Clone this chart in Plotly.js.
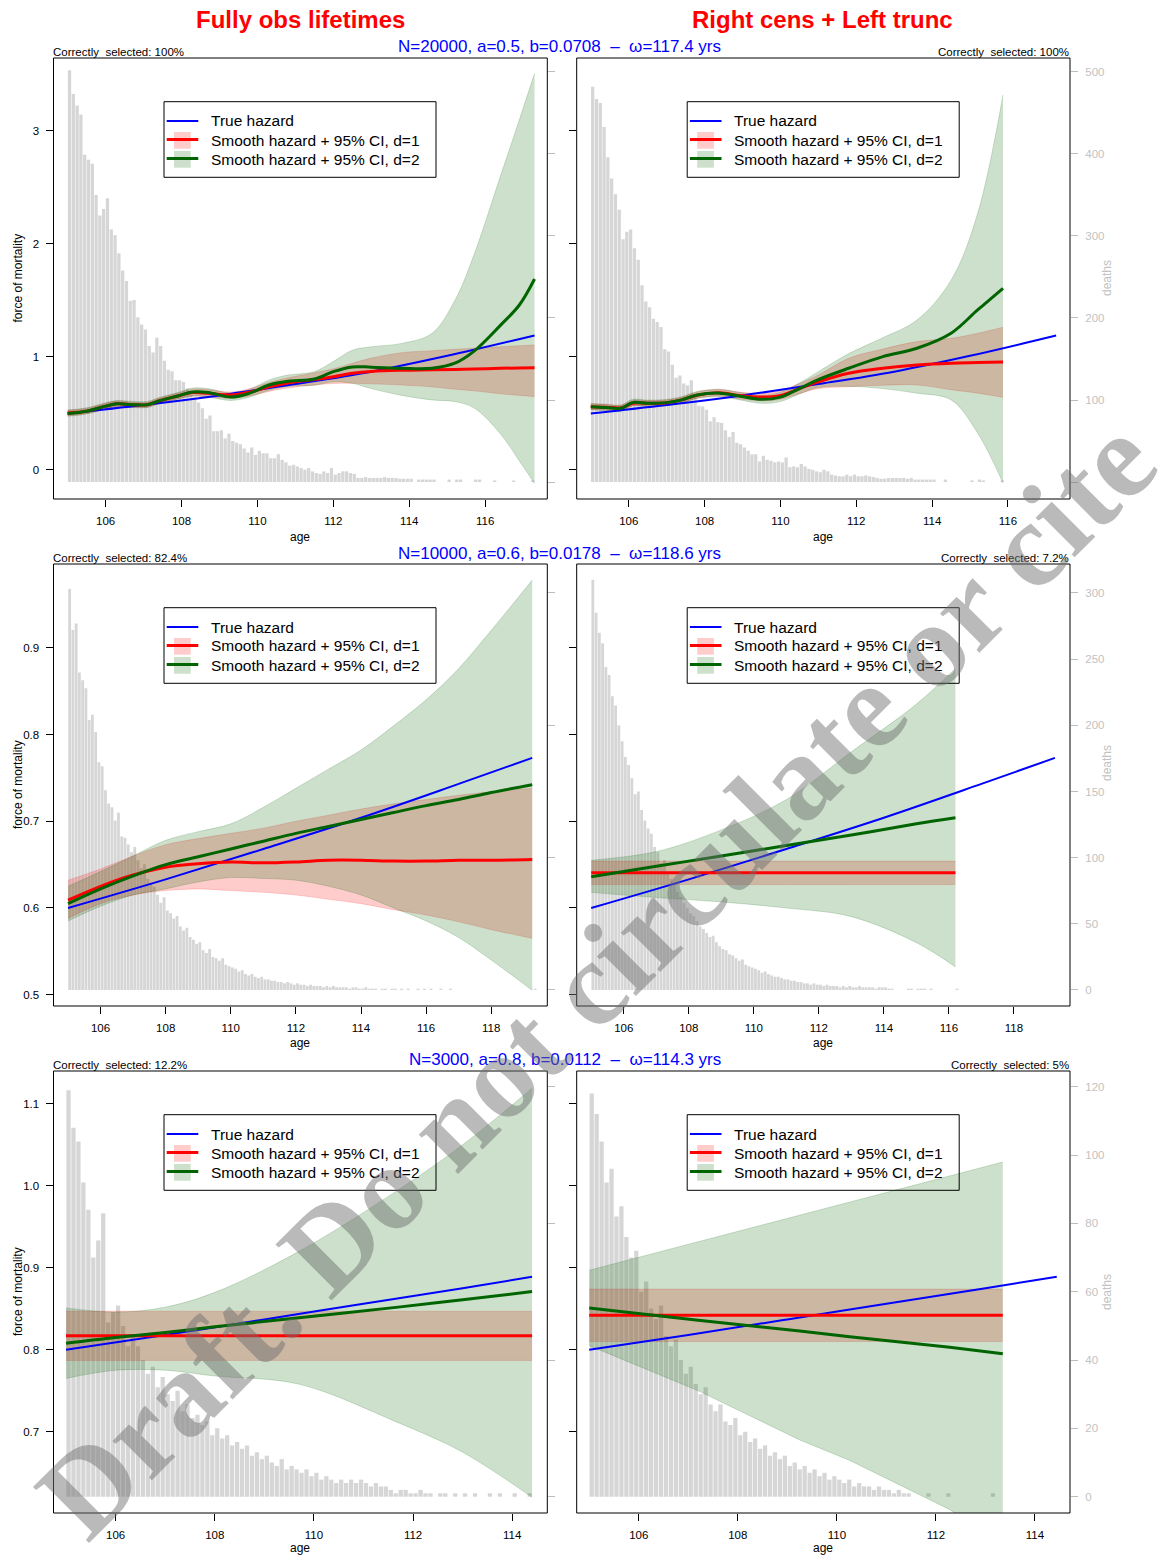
<!DOCTYPE html>
<html>
<head>
<meta charset="utf-8">
<script src="https://cdn.plot.ly/plotly-3.0.1.min.js"></script>
<style>html,body{margin:0;padding:0;background:#fff;}#chart{width:1163px;height:1556px;}</style>
</head>
<body>
<div id="chart"></div>
<script>
// ---------------- DATA ----------------
const titleLeft = 'Fully obs lifetimes';
const titleRight = 'Right cens + Left trunc';
const rowSubtitles = ['N=20000, a=0.5, b=0.0708 \u00a0\u2013\u00a0 \u03c9=117.4 yrs',
                      'N=10000, a=0.6, b=0.0178 \u00a0\u2013\u00a0 \u03c9=118.6 yrs',
                      'N=3000, a=0.8, b=0.0112 \u00a0\u2013\u00a0 \u03c9=114.3 yrs'];
const selectedText = ['Correctly\u00a0 selected: 100%', 'Correctly\u00a0 selected: 100%',
                      'Correctly\u00a0 selected: 82.4%', 'Correctly\u00a0 selected: 7.2%',
                      'Correctly\u00a0 selected: 12.2%', 'Correctly\u00a0 selected: 5%'];
const legendLabels = ['True hazard', 'Smooth hazard + 95% CI, d=1', 'Smooth hazard + 95% CI, d=2'];
const watermark = 'Draft. Do not circulate or cite';

// histogram: deaths per bin, bins start at 105.0, read in 0.1-year steps
const histStart = 105.0;
const histStep = 0.1;
const deathsP1 = [502,473,459,448,399,393,388,350,325,333,
  346,308,301,279,258,245,221,222,201,192,
  186,166,158,176,166,148,137,135,124,124,
  122,114,106,104,97,90,77,81,62,62,
  63,53,59,50,48,46,41,36,42,33,
  38,35,35,29,29,34,27,24,20,21,
  19,17,15,17,13,11,10,13,11,17,
  9,11,13,13,11,10,5,5,6,5,
  5,5,5,6,5,5,5,4,4,4,
  4,0,3,3,3,3,3,0,0,0,
  3,0,3,3,0,0,0,3,3,0,
  0,0,2,0,0,0,0,2,0,0,
  0,0,2];
const deathsP2 = [482,467,462,433,396,370,351,332,296,305,
  308,285,271,240,220,213,199,195,189,162,
  159,143,127,130,120,118,124,104,93,92,
  88,74,79,73,72,63,55,61,48,46,
  42,38,34,34,25,32,27,26,24,25,
  24,30,18,19,18,22,19,16,15,13,
  12,15,13,9,8,7,7,9,7,9,
  7,7,8,7,6,5,4,4,5,5,
  5,5,5,4,5,3,3,3,3,3,
  3,0,0,3,0,0,0,0,0,0,
  2,0,3,2,0,0,0,0,2];
const deathsP3 = [303,272,277,240,234,228,204,208,195,172,
  169,151,141,138,128,134,116,115,110,104,
  108,98,92,95,84,80,78,72,66,70,
  60,58,54,56,48,45,47,40,38,35,
  36,30,28,31,25,24,22,24,19,18,
  17,16,14,15,12,11,12,10,9,10,
  8,8,7,7,6,6,5,6,5,4,
  5,4,4,3,4,3,3,3,2,3,
  2,3,2,2,2,2,1,2,2,1,
  1,2,1,1,1,0,1,1,0,1,
  1,0,1,0,1,0,0,1,0,1,
  0,1,0,0,1,0,0,1,0,0,
  0,0,0,0,0,0,0,0,0,0,
  0,0,0,0,0,0,0,0,0,0,
  0,0,0,1];
const deathsP4 = [310,285,270,262,244,238,222,215,200,188,
  176,170,160,148,150,136,128,122,118,108,
  104,96,98,88,84,80,74,70,66,62,
  58,56,52,48,46,43,40,41,36,33,
  31,30,27,26,24,22,23,19,18,17,
  16,15,13,14,12,11,10,10,9,8,
  8,7,7,6,6,5,5,4,5,4,
  4,3,4,3,3,3,2,3,2,3,
  2,2,3,2,2,2,2,1,2,2,
  2,1,1,0,0,0,0,1,1,0,
  1,1,1,0,1,0,0,0,0,0,
  0,0,1];
const deathsP5 = [119,108,104,92,84,70,75,83,51,54,
  56,50,44,47,44,40,36,38,32,35,
  30,28,31,25,27,23,24,21,22,18,
  20,17,18,15,16,14,15,12,13,11,
  12,10,9,11,8,9,8,7,8,6,
  7,5,6,5,4,5,4,5,4,5,
  4,3,4,3,3,2,1,2,2,1,
  1,2,1,1,0,1,1,0,1,0,
  1,0,1,0,0,1,0,1,0,0,
  1,0,0,1,0];
const deathsP6 = [118,112,104,92,96,82,85,76,70,72,
  60,63,55,52,56,47,44,46,40,36,
  38,33,30,32,27,25,27,22,21,23,
  18,19,16,17,14,15,12,13,11,12,
  9,10,8,9,7,8,6,7,5,6,
  5,4,5,3,4,3,3,2,3,2,
  2,1,2,1,1,0,0,0,1,0,
  0,0,1,0,0,0,0,0,0,0,
  0,1,0,0];

// Panel 1 (row 1, fully observed)
const ageTrueP1 = [105, 107, 109, 111, 113, 115, 117.3];
const hazTrueP1 = [0.50, 0.575, 0.66, 0.76, 0.87, 1.01, 1.19];
const ageFitP1 = [105.0,105.5,106.0,106.3,106.7,107.1,107.4,107.9,108.3,108.7,109.3,109.8,110.3,110.8,111.5,112.0,112.5,113.0,113.8,114.6,115.2,115.7,116.4,116.9,117.3];
const fitD1P1 = [0.505,0.52,0.565,0.585,0.578,0.578,0.61,0.655,0.685,0.678,0.664,0.69,0.735,0.77,0.80,0.825,0.855,0.872,0.882,0.886,0.89,0.893,0.90,0.903,0.905];
const loD1P1 = [0.48,0.50,0.54,0.56,0.555,0.555,0.585,0.63,0.655,0.645,0.635,0.655,0.695,0.725,0.752,0.765,0.767,0.762,0.752,0.735,0.715,0.70,0.675,0.66,0.649];
const hiD1P1 = [0.53,0.545,0.59,0.61,0.60,0.60,0.635,0.68,0.715,0.71,0.69,0.72,0.775,0.815,0.86,0.895,0.945,0.99,1.038,1.055,1.068,1.078,1.09,1.10,1.106];
const fitD2P1 = [0.50,0.52,0.565,0.585,0.578,0.578,0.61,0.655,0.69,0.685,0.645,0.68,0.752,0.785,0.805,0.87,0.912,0.91,0.90,0.90,0.945,1.05,1.28,1.46,1.69];
const loD2P1 = [0.475,0.495,0.54,0.56,0.553,0.553,0.585,0.628,0.655,0.645,0.615,0.645,0.705,0.74,0.75,0.78,0.767,0.72,0.66,0.62,0.605,0.55,0.32,0.08,-0.12];
const hiD2P1 = [0.53,0.55,0.595,0.615,0.607,0.607,0.64,0.685,0.725,0.72,0.68,0.715,0.795,0.84,0.87,0.96,1.06,1.09,1.12,1.21,1.50,1.90,2.6,3.1,3.51];

// Panel 2 (row 1, right cens + left trunc)
const ageTrueP2 = [105, 107, 109, 111, 113, 115, 117.27];
const hazTrueP2 = [0.50, 0.575, 0.66, 0.76, 0.87, 1.01, 1.19];
const ageFitP2 = [105.0,105.4,105.8,106.1,106.5,107.0,107.4,107.8,108.4,108.9,109.5,110.0,110.5,111.0,111.8,112.7,113.6,114.5,115.2,115.87];
const fitD1P2 = [0.56,0.556,0.55,0.59,0.59,0.595,0.62,0.662,0.684,0.66,0.645,0.66,0.72,0.78,0.856,0.90,0.929,0.945,0.95,0.955];
const loD1P2 = [0.535,0.53,0.525,0.565,0.565,0.57,0.595,0.635,0.655,0.63,0.612,0.625,0.675,0.72,0.737,0.75,0.752,0.71,0.68,0.643];
const hiD1P2 = [0.585,0.582,0.575,0.615,0.615,0.62,0.645,0.69,0.715,0.69,0.678,0.70,0.765,0.84,0.988,1.07,1.136,1.165,1.21,1.263];
const fitD2P2 = [0.56,0.552,0.546,0.596,0.59,0.596,0.62,0.664,0.68,0.655,0.625,0.645,0.72,0.80,0.90,1.003,1.077,1.21,1.416,1.608];
const loD2P2 = [0.532,0.525,0.52,0.568,0.562,0.568,0.592,0.633,0.648,0.622,0.59,0.605,0.672,0.73,0.74,0.72,0.679,0.62,0.327,-0.116];
const hiD2P2 = [0.588,0.58,0.574,0.625,0.618,0.624,0.648,0.695,0.712,0.688,0.662,0.688,0.77,0.87,1.03,1.17,1.327,1.68,2.27,3.32];

// Panel 3 (row 2, fully observed)
const ageTrueP3 = [105, 108, 111, 114, 117, 119.26];
const hazTrueP3 = [0.600, 0.633, 0.668, 0.704, 0.743, 0.773];
const ageFitP3 = [105,106,107,108,109,110,111,112,113,114,115,116,117,118,119.26];
const fitD1P3 = [0.609,0.625,0.638,0.647,0.651,0.653,0.652,0.653,0.655,0.655,0.654,0.654,0.655,0.655,0.656];
const loD1P3 = [0.588,0.605,0.615,0.62,0.622,0.62,0.618,0.615,0.61,0.605,0.598,0.592,0.584,0.575,0.565];
const hiD1P3 = [0.632,0.645,0.66,0.673,0.68,0.686,0.692,0.70,0.707,0.714,0.72,0.725,0.73,0.734,0.738];
const fitD2P3 = [0.605,0.622,0.637,0.65,0.659,0.668,0.677,0.686,0.694,0.702,0.71,0.718,0.725,0.733,0.742];
const loD2P3 = [0.585,0.602,0.615,0.622,0.63,0.635,0.634,0.632,0.625,0.615,0.60,0.585,0.566,0.54,0.505];
const hiD2P3 = [0.625,0.642,0.66,0.678,0.688,0.697,0.716,0.738,0.76,0.782,0.81,0.84,0.876,0.92,0.978];

// Panel 4 (row 2, right cens + left trunc)
const ageTrueP4 = [105, 108, 111, 114, 117, 119.26];
const hazTrueP4 = [0.600, 0.633, 0.668, 0.704, 0.743, 0.773];
const ageFitP4 = [105, 107, 109, 111, 113, 115, 116.2];
const fitD1P4 = [0.6405,0.6405,0.6405,0.6405,0.6405,0.6405,0.6405];
const loD1P4 = [0.627,0.627,0.627,0.627,0.627,0.627,0.627];
const hiD1P4 = [0.654,0.654,0.654,0.654,0.654,0.654,0.654];
const fitD2P4 = [0.636,0.648,0.66,0.672,0.684,0.697,0.704];
const loD2P4 = [0.618,0.612,0.607,0.60,0.59,0.56,0.532];
const hiD2P4 = [0.655,0.665,0.69,0.725,0.78,0.835,0.876];

// Panel 5 (row 3, fully observed)
const ageTrueP5 = [105, 107, 109, 111, 113, 114.4];
const hazTrueP5 = [0.80, 0.818, 0.837, 0.856, 0.875, 0.889];
const ageFitP5 = [105, 106, 107, 108, 109.7, 111.7, 113, 114.4];
const fitD1P5 = [0.817,0.817,0.817,0.817,0.817,0.817,0.817,0.817];
const loD1P5 = [0.787,0.787,0.787,0.787,0.787,0.787,0.787,0.787];
const hiD1P5 = [0.847,0.847,0.847,0.847,0.847,0.847,0.847,0.847];
const fitD2P5 = [0.808,0.815,0.821,0.828,0.839,0.852,0.861,0.871];
const loD2P5 = [0.765,0.775,0.775,0.768,0.758,0.711,0.675,0.62];
const hiD2P5 = [0.851,0.846,0.852,0.87,0.92,0.995,1.05,1.119];

// Panel 6 (row 3, right cens + left trunc)
const ageTrueP6 = [105, 107, 109, 111, 113, 114.44];
const hazTrueP6 = [0.80, 0.818, 0.837, 0.856, 0.875, 0.889];
const ageFitP6 = [105, 107.2, 109.25, 110.26, 112.28, 113.35];
const fitD1P6 = [0.842,0.842,0.842,0.842,0.842,0.842];
const loD1P6 = [0.81,0.81,0.81,0.81,0.81,0.81];
const hiD1P6 = [0.874,0.874,0.874,0.874,0.874,0.874];
const fitD2P6 = [0.851,0.836,0.823,0.816,0.803,0.795];
const loD2P6 = [0.805,0.75,0.69,0.665,0.605,0.561];
const hiD2P6 = [0.897,0.932,0.964,0.98,1.012,1.029];

// axis ticks per row
const xTicksRows = [[106,108,110,112,114,116],[106,108,110,112,114,116,118],[106,108,110,112,114]];
const hazTicksRows = [[0,1,2,3],[0.5,0.6,0.7,0.8,0.9],[0.7,0.8,0.9,1.0,1.1]];
const hazTickTextRows = [['0','1','2','3'],['0.5','0.6','0.7','0.8','0.9'],['0.7','0.8','0.9','1.0','1.1']];
const deathTicksRightRows = [[0,100,200,300,400,500],[0,50,100,150,200,250,300],[0,20,40,60,80,100,120]];
const deathTickTextRightRows = [['','100','200','300','400','500'],['0','50','100','150','200','250','300'],['0','20','40','60','80','100','120']];
const deathTicksLeftRows = [[0,100,200,300,400,500],[0,100,200,300],[0,40,80,120]];

// ---------------- LAYOUT ----------------
const W = 1163, H = 1556;
const FONT = '"Liberation Sans", Arial, Helvetica, sans-serif';
const px2x = p => p / W;
const py2y = p => 1 - p / H;
const COLS = [[53.5, 547.3], [576.7, 1070]];
const ROWS = [[58, 499], [564, 1006], [1071, 1513]];
const ageLabelY = [537, 1043, 1548];
const deathsLabelY = [278, 763, 1292];
const rowRanges = [
  {xr: [104.628, 117.636], hr: [-0.257, 3.646], dr: [-20.7, 517]},
  {xr: [104.554, 119.723], hr: [0.487, 0.9965], dr: [-12.1, 321.9]},
  {xr: [104.747, 114.707], hr: [0.6009, 1.140], dr: [-4.77, 124.6]}
];

const panels = [
  {row:0, col:0, deaths:deathsP1, at:ageTrueP1, ht:hazTrueP1, af:ageFitP1, d1:fitD1P1, lo1:loD1P1, hi1:hiD1P1, d2:fitD2P1, lo2:loD2P1, hi2:hiD2P1, smooth:true},
  {row:0, col:1, deaths:deathsP2, at:ageTrueP2, ht:hazTrueP2, af:ageFitP2, d1:fitD1P2, lo1:loD1P2, hi1:hiD1P2, d2:fitD2P2, lo2:loD2P2, hi2:hiD2P2, smooth:true},
  {row:1, col:0, deaths:deathsP3, at:ageTrueP3, ht:hazTrueP3, af:ageFitP3, d1:fitD1P3, lo1:loD1P3, hi1:hiD1P3, d2:fitD2P3, lo2:loD2P3, hi2:hiD2P3, smooth:true},
  {row:1, col:1, deaths:deathsP4, at:ageTrueP4, ht:hazTrueP4, af:ageFitP4, d1:fitD1P4, lo1:loD1P4, hi1:hiD1P4, d2:fitD2P4, lo2:loD2P4, hi2:hiD2P4, smooth:true},
  {row:2, col:0, deaths:deathsP5, at:ageTrueP5, ht:hazTrueP5, af:ageFitP5, d1:fitD1P5, lo1:loD1P5, hi1:hiD1P5, d2:fitD2P5, lo2:loD2P5, hi2:hiD2P5, smooth:true},
  {row:2, col:1, deaths:deathsP6, at:ageTrueP6, ht:hazTrueP6, af:ageFitP6, d1:fitD1P6, lo1:loD1P6, hi1:hiD1P6, d2:fitD2P6, lo2:loD2P6, hi2:hiD2P6, smooth:false}
];

const traces = [];
const layout = {
  width: W, height: H, margin: {l:0, r:0, t:0, b:0},
  paper_bgcolor: '#ffffff', plot_bgcolor: 'rgba(0,0,0,0)',
  showlegend: false, font: {family: FONT, color: '#000'},
  shapes: [], annotations: []
};

panels.forEach((p, i) => {
  const k = i + 1;
  const xid = k === 1 ? 'x' : 'x' + k;
  const hid = k === 1 ? 'y' : 'y' + k;
  const did = 'y' + (k + 6);
  const xkey = k === 1 ? 'xaxis' : 'xaxis' + k;
  const hkey = k === 1 ? 'yaxis' : 'yaxis' + k;
  const dkey = 'yaxis' + (k + 6);
  const rr = rowRanges[p.row];
  const [xl, xr] = COLS[p.col];
  const [yt, yb] = ROWS[p.row];
  const right = p.col === 1;

  layout[xkey] = {domain: [px2x(xl), px2x(xr)], range: rr.xr, anchor: did,
    tickmode: 'array', tickvals: xTicksRows[p.row], ticks: 'outside', ticklen: 7, tickwidth: 1, tickcolor: '#000',
    showgrid: false, zeroline: false, showline: false, ticklabelstandoff: 4,
    tickfont: {family: FONT, size: 11.5, color: '#000'}};
  layout[dkey] = {domain: [py2y(yb), py2y(yt)], range: rr.dr, anchor: xid, side: 'right',
    tickmode: 'array', tickvals: right ? deathTicksRightRows[p.row] : deathTicksLeftRows[p.row],
    ticktext: right ? deathTickTextRightRows[p.row] : deathTicksLeftRows[p.row].map(() => ''),
    ticks: 'outside', ticklen: 7, tickwidth: 1, tickcolor: '#bdbdbd',
    showgrid: false, zeroline: false, showline: false, showticklabels: right, ticklabelstandoff: 5,
    tickfont: {family: FONT, size: 11.5, color: '#c2c2c2'}};
  layout[hkey] = {overlaying: did, range: rr.hr, anchor: xid, side: 'left',
    tickmode: 'array', tickvals: hazTicksRows[p.row], ticktext: hazTickTextRows[p.row],
    ticks: 'outside', ticklen: 7, tickwidth: 1, tickcolor: '#000',
    showgrid: false, zeroline: false, showline: false, showticklabels: !right, ticklabelstandoff: 4,
    tickfont: {family: FONT, size: 11.5, color: '#000'}};

  // histogram of deaths
  const bx = p.deaths.map((_, j) => histStart + (j + 0.5) * histStep);
  traces.push({type: 'bar', x: bx, y: p.deaths, width: histStep * 0.86, xaxis: xid, yaxis: did,
    marker: {color: '#d6d6d6', line: {width: 0}}, hoverinfo: 'skip'});

  const shp = p.smooth ? 'spline' : 'linear';
  // d=1 band
  traces.push({type:'scatter', mode:'lines', x:p.af, y:p.lo1, xaxis:xid, yaxis:hid,
    line:{color:'rgba(255,0,0,0.22)', width:0.7, shape:shp}, hoverinfo:'skip'});
  traces.push({type:'scatter', mode:'lines', x:p.af, y:p.hi1, xaxis:xid, yaxis:hid, fill:'tonexty',
    fillcolor:'rgba(255,0,0,0.2)', line:{color:'rgba(255,0,0,0.22)', width:0.7, shape:shp}, hoverinfo:'skip'});
  // d=2 band
  traces.push({type:'scatter', mode:'lines', x:p.af, y:p.lo2, xaxis:xid, yaxis:hid,
    line:{color:'rgba(0,100,0,0.25)', width:0.7, shape:shp}, hoverinfo:'skip'});
  traces.push({type:'scatter', mode:'lines', x:p.af, y:p.hi2, xaxis:xid, yaxis:hid, fill:'tonexty',
    fillcolor:'rgba(0,100,0,0.2)', line:{color:'rgba(0,100,0,0.25)', width:0.7, shape:shp}, hoverinfo:'skip'});
  // lines
  traces.push({type:'scatter', mode:'lines', x:p.at, y:p.ht, xaxis:xid, yaxis:hid,
    line:{color:'#0000ff', width:2, shape:'spline'}, hoverinfo:'skip'});
  traces.push({type:'scatter', mode:'lines', x:p.af, y:p.d1, xaxis:xid, yaxis:hid,
    line:{color:'#ff0000', width:3, shape:shp}, hoverinfo:'skip'});
  traces.push({type:'scatter', mode:'lines', x:p.af, y:p.d2, xaxis:xid, yaxis:hid,
    line:{color:'#006400', width:3, shape:shp}, hoverinfo:'skip'});

  // box
  layout.shapes.push({type:'rect', xref: xid + ' domain', yref: did + ' domain', x0:0, x1:1, y0:0, y1:1,
    line:{color:'#000', width:1}, layer:'above'});

  // legend
  const lx = d => px2x(xl + d), ly = d => py2y(yt + d);
  layout.shapes.push({type:'rect', xref:'paper', yref:'paper', x0:lx(110.5), x1:lx(382.5), y0:ly(119.3), y1:ly(43.7),
    line:{color:'#000', width:1}, layer:'above'});
  layout.shapes.push({type:'line', xref:'paper', yref:'paper', x0:lx(113.2), x1:lx(144.8), y0:ly(63), y1:ly(63),
    line:{color:'#0000ff', width:2}, layer:'above'});
  layout.shapes.push({type:'rect', xref:'paper', yref:'paper', x0:lx(120.5), x1:lx(137.2), y0:ly(90.7), y1:ly(74),
    fillcolor:'rgba(255,0,0,0.2)', line:{width:0}, layer:'above'});
  layout.shapes.push({type:'line', xref:'paper', yref:'paper', x0:lx(113.2), x1:lx(144.8), y0:ly(81.6), y1:ly(81.6),
    line:{color:'#ff0000', width:3}, layer:'above'});
  layout.shapes.push({type:'rect', xref:'paper', yref:'paper', x0:lx(120.5), x1:lx(137.2), y0:ly(109.7), y1:ly(93),
    fillcolor:'rgba(0,100,0,0.2)', line:{width:0}, layer:'above'});
  layout.shapes.push({type:'line', xref:'paper', yref:'paper', x0:lx(113.2), x1:lx(144.8), y0:ly(100.5), y1:ly(100.5),
    line:{color:'#006400', width:3}, layer:'above'});
  [63, 82, 101].forEach((dy, j) => {
    layout.annotations.push({xref:'paper', yref:'paper', x:lx(155), y:ly(dy), xanchor:'left', yanchor:'middle',
      text: legendLabels[j], showarrow:false, font:{family:FONT, size:15.5, color:'#000'}});
  });

  // "Correctly selected"
  layout.annotations.push({xref:'paper', yref:'paper', x: right ? px2x(1071) : px2x(51), y: py2y(yt - 6),
    xanchor: right ? 'right' : 'left', yanchor:'middle', text: selectedText[i], showarrow:false,
    font:{family:FONT, size:11.5, color:'#000'}});
  // axis titles
  layout.annotations.push({xref:'paper', yref:'paper', x: px2x((xl + xr) / 2), y: py2y(ageLabelY[p.row]),
    xanchor:'center', yanchor:'middle', text:'age', showarrow:false, font:{family:FONT, size:12, color:'#000'}});
  if (!right) {
    layout.annotations.push({xref:'paper', yref:'paper', x: px2x(18), y: py2y((yt + yb) / 2),
      xanchor:'center', yanchor:'middle', text:'force of mortality', textangle:-90, showarrow:false,
      font:{family:FONT, size:12, color:'#000'}});
  } else {
    layout.annotations.push({xref:'paper', yref:'paper', x: px2x(1107), y: py2y(deathsLabelY[p.row]),
      xanchor:'center', yanchor:'middle', text:'deaths', textangle:-90, showarrow:false,
      font:{family:FONT, size:12, color:'#c2c2c2'}});
  }
});

// titles
layout.annotations.push({xref:'paper', yref:'paper', x:px2x(300), y:py2y(19), xanchor:'center', yanchor:'middle',
  text:'<b>' + titleLeft + '</b>', showarrow:false, font:{family:FONT, size:24, color:'#ff0000'}});
layout.annotations.push({xref:'paper', yref:'paper', x:px2x(823), y:py2y(19), xanchor:'center', yanchor:'middle',
  text:'<b>' + titleRight + '</b>', showarrow:false, font:{family:FONT, size:24, color:'#ff0000'}});
[47, 553, 1059].forEach((py, j) => {
  layout.annotations.push({xref:'paper', yref:'paper', x:px2x(723), y:py2y(py), xanchor:'right', yanchor:'middle',
    text: rowSubtitles[j], showarrow:false, font:{family:FONT, size:17, color:'#0000ff'}});
});
// watermark
layout.annotations.push({xref:'paper', yref:'paper', x:px2x(596), y:py2y(978), xanchor:'center', yanchor:'middle',
  text:'<b>' + watermark + '</b>', textangle:-45, showarrow:false,
  font:{family:'"Liberation Serif", "DejaVu Serif", serif', size:121, color:'rgba(110,110,110,0.48)'}});

Plotly.newPlot('chart', traces, layout, {staticPlot: true, displayModeBar: false});
</script>
</body>
</html>
